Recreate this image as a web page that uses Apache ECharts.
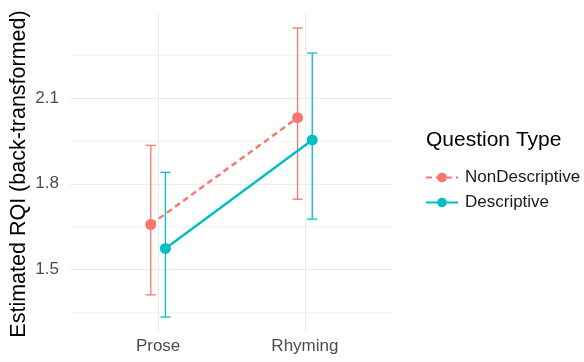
<!DOCTYPE html>
<html>
<head>
<meta charset="utf-8">
<script src="https://cdn.jsdelivr.net/npm/echarts@6/dist/echarts.min.js"></script>
<style>
  html, body { margin: 0; padding: 0; background: #fff; }
  #chart { width: 584px; height: 362px; }
</style>
</head>
<body>
<div id="chart"></div>
<script>
// Estimated marginal means (back-transformed) with 95% intervals
const categories = ['Prose', 'Rhyming'];
const seriesNames = ['NonDescriptive', 'Descriptive'];

const nonDescMean = [1.657, 2.032];
const nonDescLow  = [1.410, 1.746];
const nonDescHigh = [1.935, 2.347];

const descMean = [1.573, 1.954];
const descLow  = [1.332, 1.676];
const descHigh = [1.840, 2.259];

const yMajorTicks = [1.5, 1.8, 2.1];
const yAllTicks = [1.35, 1.5, 1.65, 1.8, 1.95, 2.1, 2.25];

const colors = ['#F8766D', '#00BFC4'];
const dodge = 0.05;          // horizontal offset of each group
const capWidth = 0.07;       // error bar cap width in x units
const FONT = "'Liberation Sans', Arial, Helvetica, sans-serif";

function pos(i, off) { return i + 1 + off; }

const nonDescPts = nonDescMean.map((m, i) => [pos(i, -dodge), m]);
const descPts = descMean.map((m, i) => [pos(i, dodge), m]);
const nonDescBars = nonDescMean.map((m, i) => [pos(i, -dodge), nonDescLow[i], nonDescHigh[i]]);
const descBars = descMean.map((m, i) => [pos(i, dodge), descLow[i], descHigh[i]]);

function errorBar(color) {
  return function (params, api) {
    const x = api.value(0);
    const lo = api.coord([x, api.value(1)]);
    const hi = api.coord([x, api.value(2)]);
    const half = api.size([capWidth, 0])[0] / 2;
    const style = { stroke: color, lineWidth: 1.3, fill: null };
    return {
      type: 'group',
      children: [
        { type: 'line', shape: { x1: lo[0], y1: lo[1], x2: hi[0], y2: hi[1] }, style },
        { type: 'line', shape: { x1: lo[0] - half, y1: lo[1], x2: lo[0] + half, y2: lo[1] }, style },
        { type: 'line', shape: { x1: hi[0] - half, y1: hi[1], x2: hi[0] + half, y2: hi[1] }, style }
      ]
    };
  };
}

const chart = echarts.init(document.getElementById('chart'), null, { renderer: 'canvas' });

chart.setOption({
  animation: false,
  backgroundColor: '#ffffff',
  textStyle: { fontFamily: FONT },
  grid: { left: 70, right: 191, top: 14, bottom: 30 },
  xAxis: {
    type: 'value',
    min: 0.4,
    max: 2.6,
    axisLine: { show: false },
    axisTick: { show: false, customValues: [1, 2] },
    axisLabel: {
      customValues: [1, 2],
      formatter: v => categories[Math.round(v) - 1],
      color: '#4d4d4d',
      fontSize: 17,
      fontFamily: FONT,
      margin: 6
    },
    splitLine: { show: true, lineStyle: { color: '#ebebeb', width: 1.1 } }
  },
  yAxis: {
    type: 'value',
    min: 1.2795,
    max: 2.3963,
    axisLine: { show: false },
    axisTick: { show: false, customValues: yAllTicks },
    axisLabel: {
      customValues: yMajorTicks,
      formatter: v => v.toFixed(1),
      color: '#4d4d4d',
      fontSize: 17,
      fontFamily: FONT,
      margin: 11
    },
    splitLine: { show: true, lineStyle: { color: ['#f3f3f3', '#ebebeb'], width: 1.1 } }
  },
  legend: {
    orient: 'vertical',
    left: 420,
    top: 164,
    itemWidth: 32,
    itemHeight: 12,
    itemGap: 8,
    data: seriesNames,
    textStyle: { fontSize: 17, color: '#1a1a1a', fontFamily: FONT, padding: [0, 0, 0, 2] }
  },
  graphic: [
    {
      type: 'text',
      left: 426,
      top: 130,
      style: { text: 'Question Type', fontSize: 21, fill: '#000', fontFamily: FONT }
    },
    {
      type: 'text',
      x: 19,
      y: 174,
      rotation: Math.PI / 2,
      style: {
        text: 'Estimated RQI (back-transformed)',
        fontSize: 21.5, fill: '#000', fontFamily: FONT,
        align: 'center', verticalAlign: 'middle'
      }
    }
  ],
  series: [
    {
      type: 'custom', name: 'nd-bars', renderItem: errorBar(colors[0]),
      data: nonDescBars, z: 1, silent: true
    },
    {
      type: 'custom', name: 'd-bars', renderItem: errorBar(colors[1]),
      data: descBars, z: 1, silent: true
    },
    {
      type: 'line', name: seriesNames[0], data: nonDescPts,
      symbol: 'circle', symbolSize: 11, showSymbol: true,
      itemStyle: { color: colors[0] },
      lineStyle: { color: colors[0], width: 2.4, type: [6, 4] },
      z: 3
    },
    {
      type: 'line', name: seriesNames[1], data: descPts,
      symbol: 'circle', symbolSize: 11, showSymbol: true,
      itemStyle: { color: colors[1] },
      lineStyle: { color: colors[1], width: 2.4 },
      z: 3
    }
  ]
});
</script>
</body>
</html>
